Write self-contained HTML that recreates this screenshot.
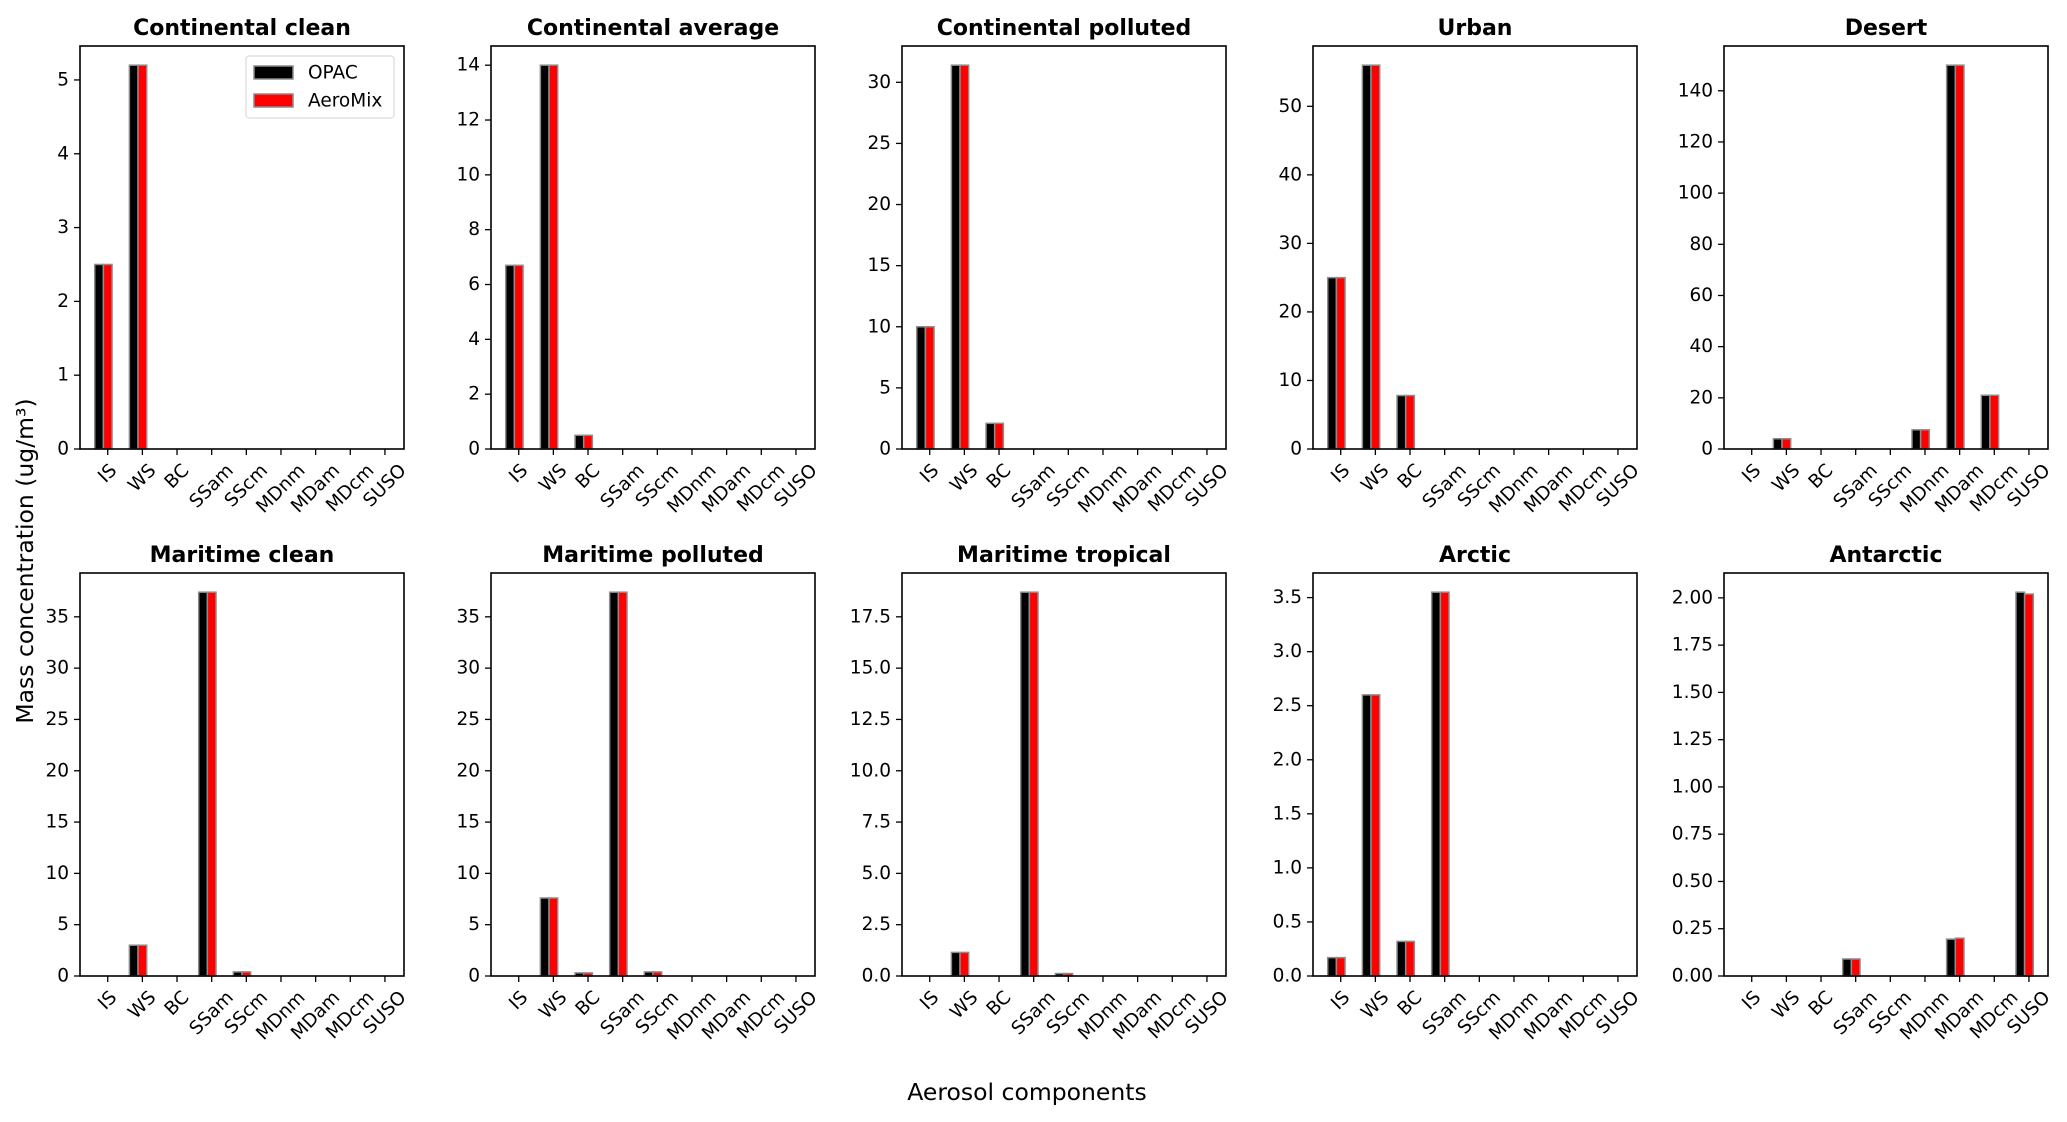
<!DOCTYPE html>
<html><head><meta charset="utf-8">
<style>
html,body{margin:0;padding:0;background:#fff;}
svg{display:block;font-family:"DejaVu Sans","Liberation Sans",sans-serif;}
</style></head>
<body>
<svg id="fig" width="2067" height="1122" viewBox="0 0 2067 1122">
<text x="25" y="561" font-size="23.5" text-anchor="middle" dominant-baseline="central" transform="rotate(-90 25 561)">Mass concentration (ug/m³)</text>
<text x="1027" y="1100" font-size="23.5" text-anchor="middle">Aerosol components</text>
</svg>
<script>
const categories = ["IS","WS","BC","SSam","SScm","MDnm","MDam","MDcm","SUSO"];
const panelTitles = ["Continental clean","Continental average","Continental polluted","Urban","Desert","Maritime clean","Maritime polluted","Maritime tropical","Arctic","Antarctic"];
const opacValues = [
  [2.5,5.2,0,0,0,0,0,0,0],
  [6.7,14.0,0.5,0,0,0,0,0,0],
  [10.0,31.4,2.1,0,0,0,0,0,0],
  [25.0,56.0,7.8,0,0,0,0,0,0],
  [0,4.0,0,0,0,7.5,150.0,21.0,0],
  [0,3.0,0,37.4,0.4,0,0,0,0],
  [0,7.6,0.3,37.4,0.4,0,0,0,0],
  [0,1.15,0,18.7,0.12,0,0,0,0],
  [0.17,2.6,0.32,3.55,0,0,0,0,0],
  [0,0,0,0.09,0,0,0.195,0,2.03]
];
const aeromixValues = [
  [2.5,5.2,0,0,0,0,0,0,0],
  [6.7,14.0,0.5,0,0,0,0,0,0],
  [10.0,31.4,2.1,0,0,0,0,0,0],
  [25.0,56.0,7.8,0,0,0,0,0,0],
  [0,4.0,0,0,0,7.5,150.0,21.0,0],
  [0,3.0,0,37.4,0.4,0,0,0,0],
  [0,7.6,0.3,37.4,0.4,0,0,0,0],
  [0,1.15,0,18.7,0.12,0,0,0,0],
  [0.17,2.6,0.32,3.55,0,0,0,0,0],
  [0,0,0,0.09,0,0,0.2,0,2.02]
];
const yTickLabels = [
  ["0","1","2","3","4","5"],
  ["0","2","4","6","8","10","12","14"],
  ["0","5","10","15","20","25","30"],
  ["0","10","20","30","40","50"],
  ["0","20","40","60","80","100","120","140"],
  ["0","5","10","15","20","25","30","35"],
  ["0","5","10","15","20","25","30","35"],
  ["0.0","2.5","5.0","7.5","10.0","12.5","15.0","17.5"],
  ["0.0","0.5","1.0","1.5","2.0","2.5","3.0","3.5"],
  ["0.00","0.25","0.50","0.75","1.00","1.25","1.50","1.75","2.00"]
];
const seriesNames = ["OPAC","AeroMix"];

const NS="http://www.w3.org/2000/svg";
const svg=document.getElementById('fig');
function mk(tag,attrs,parent){const e=document.createElementNS(NS,tag);for(const k in attrs)e.setAttribute(k,attrs[k]);(parent||svg).appendChild(e);return e;}

const AX_W=324, AX_H=403, COL0=80, COL_STEP=411, ROW_TOPS=[46,573];
const XMIN=-0.8, XMAX=8.55, BW=0.25;

panelTitles.forEach((title,p)=>{
  const col=p%5,row=Math.floor(p/5);
  const L=COL0+col*COL_STEP, T=ROW_TOPS[row], B=T+AX_H, R=L+AX_W;
  const g=mk('g',{});
  
  
  const ymax=Math.max(...opacValues[p],...aeromixValues[p])*1.05;
  const xs=v=>L+(v-XMIN)/(XMAX-XMIN)*AX_W;
  const ys=v=>B-v/ymax*AX_H;
  const t=mk('text',{x:(L+R)/2,y:T-11,'font-size':22,'font-weight':'bold','text-anchor':'middle'},g);
  t.textContent=title;
  
  
  [opacValues[p],aeromixValues[p]].forEach((vals,s)=>{
    vals.forEach((v,i)=>{
      const x0=xs(i-0.375+s*BW), x1=xs(i-0.375+(s+1)*BW);
      const r=mk('rect',{x:x0,y:ys(v),width:x1-x0,height:B-ys(v),fill:s?'#ff0000':'#000000',stroke:'#8c8c8c','stroke-width':1.5},g);
      
      
    });
  });
  yTickLabels[p].forEach(lbl=>{
    const v=parseFloat(lbl), y=ys(v);
    mk('line',{x1:L-6,x2:L,y1:y,y2:y,stroke:'#000','stroke-width':1.3},g);
    const tx=mk('text',{x:L-11,y:y,'font-size':18.5,'text-anchor':'end','dominant-baseline':'central'},g);
    tx.textContent=lbl;
    
    
  });
  categories.forEach((c,i)=>{
    const x=xs(i);
    mk('line',{x1:x,x2:x,y1:B,y2:B+6,stroke:'#000','stroke-width':1.3},g);
    const tx=mk('text',{x:0,y:0,'font-size':18.5,'text-anchor':'middle','dominant-baseline':'central'},g);
    tx.textContent=c;
    
    
    const w=tx.getComputedTextLength(), h=18.5;
    const cy=B+13+(w+h*0.85)/(2*Math.SQRT2);
    tx.setAttribute('x',x);tx.setAttribute('y',cy);
    tx.setAttribute('transform','rotate(-45 '+x+' '+cy+')');
  });
  const frame=mk('rect',{x:L,y:T,width:AX_W,height:AX_H,fill:'none',stroke:'#000','stroke-width':1.6},g);
  
  
  if(p===0){
    const lg=mk('g',{},g);
    
    
    mk('rect',{x:246,y:56,width:148,height:62,rx:3,fill:'#fff',stroke:'#d9d9d9','stroke-width':1.2},lg);
    seriesNames.forEach((n,s)=>{
      const y=66+s*28;
      const pr=mk('rect',{x:254,y:y,width:39,height:13,fill:s?'#ff0000':'#000',stroke:'#8c8c8c','stroke-width':1.5},lg);
      
      
      const lt=mk('text',{x:308,y:y+7,'font-size':18.5,'dominant-baseline':'central'},lg);
      lt.textContent=n;
      
      
    });
  }
});
</script>
</body></html>
